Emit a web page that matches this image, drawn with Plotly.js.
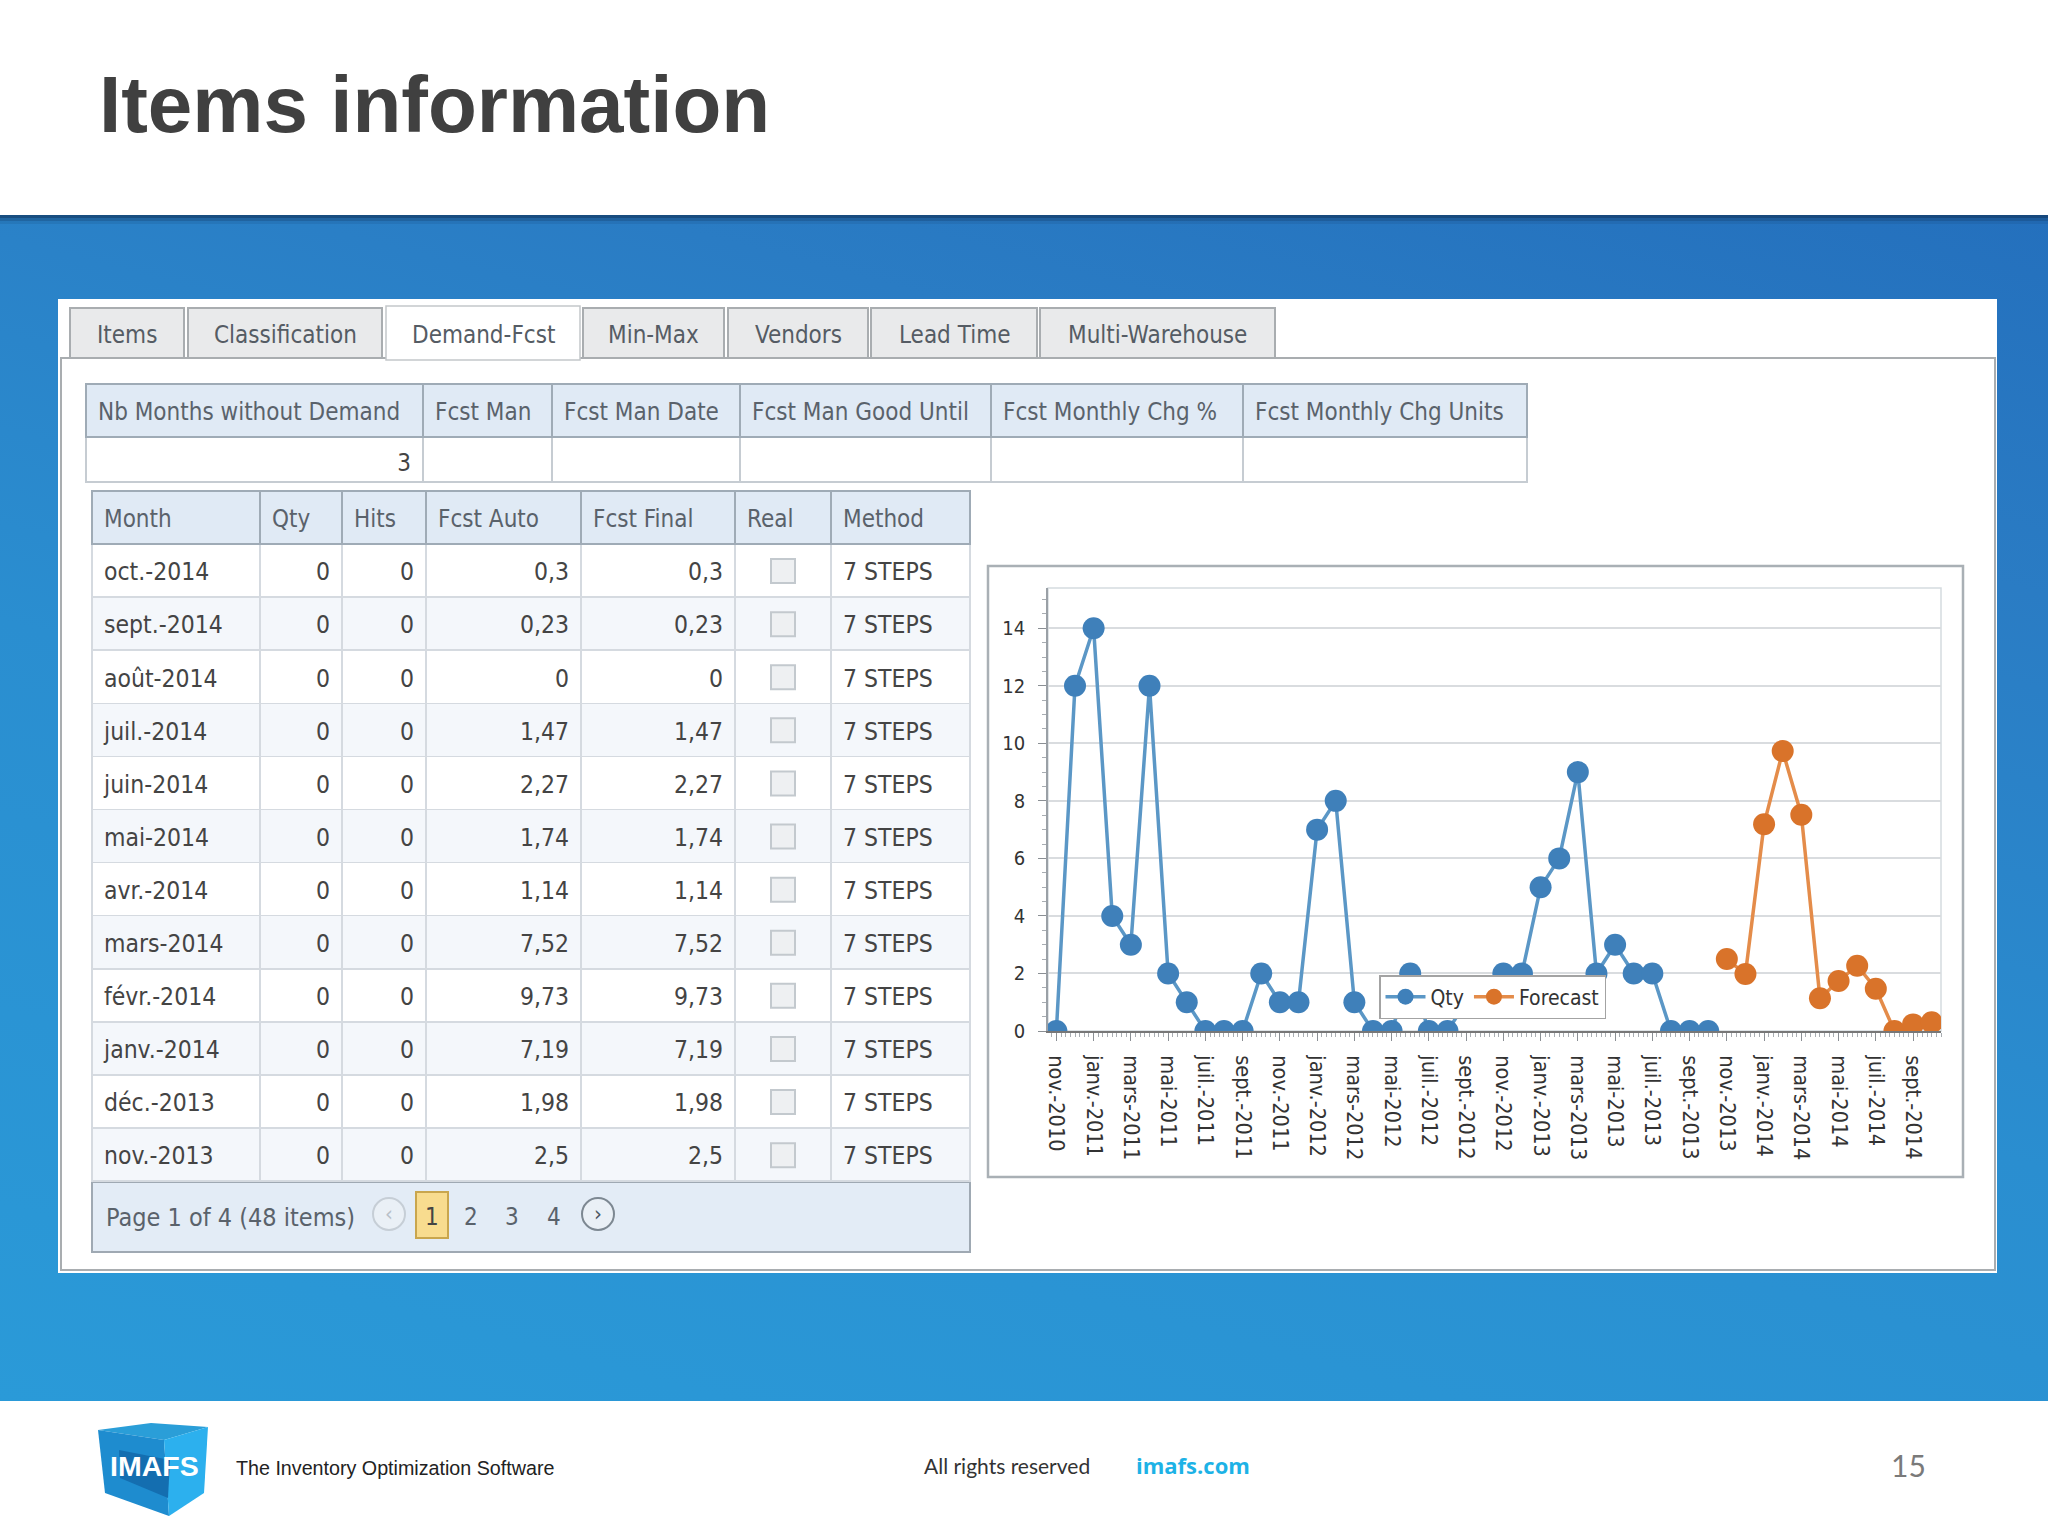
<!DOCTYPE html>
<html><head><meta charset="utf-8">
<script src="https://cdn.plot.ly/plotly-3.0.1.min.js"></script>
<style>
html,body{margin:0;padding:0;width:2048px;height:1536px;overflow:hidden;background:#fff}
#bg{position:absolute;left:0;top:215px;width:2048px;height:1186px;background:linear-gradient(195deg,#2470bd 0%,#2a7cc4 22%,#2a8ed0 55%,#2a9ad8 100%)}
#chart{position:absolute;left:0;top:0;width:2048px;height:1536px}
#chart .cell-text{transform:translate(0,10px)}
</style></head><body><div id="bg"></div><div id="chart"></div>
<script>
// ---- chart data ----
const chartMonths=["nov.-2010","déc.-2010","janv.-2011","févr.-2011","mars-2011","avr.-2011","mai-2011","juin-2011","juil.-2011","août-2011","sept.-2011","oct.-2011","nov.-2011","déc.-2011","janv.-2012","févr.-2012","mars-2012","avr.-2012","mai-2012","juin-2012","juil.-2012","août-2012","sept.-2012","oct.-2012","nov.-2012","déc.-2012","janv.-2013","févr.-2013","mars-2013","avr.-2013","mai-2013","juin-2013","juil.-2013","août-2013","sept.-2013","oct.-2013","nov.-2013","déc.-2013","janv.-2014","févr.-2014","mars-2014","avr.-2014","mai-2014","juin-2014","juil.-2014","août-2014","sept.-2014","oct.-2014"];
const qtyValues=[0,12,14,4,3,12,2,1,0,0,0,2,1,1,7,8,1,0,0,2,0,0,1,1,2,2,5,6,9,2,3,2,2,0,0,0,null,null,null,null,null,null,null,null,null,null,null,null];
const forecastValues=[null,null,null,null,null,null,null,null,null,null,null,null,null,null,null,null,null,null,null,null,null,null,null,null,null,null,null,null,null,null,null,null,null,null,null,null,2.5,1.98,7.19,9.73,7.52,1.14,1.74,2.27,1.47,0,0.23,0.3];
const monthIndex=chartMonths.map((m,i)=>i);
const axisTicks=monthIndex.filter(i=>i%2===0);
const axisLabels=axisTicks.map(i=>chartMonths[i]);
// ---- grid data ----
const gridHeaders=["Month","Qty","Hits","Fcst Auto","Fcst Final","Real","Method"];
const gridMonths=["oct.-2014","sept.-2014","août-2014","juil.-2014","juin-2014","mai-2014","avr.-2014","mars-2014","févr.-2014","janv.-2014","déc.-2013","nov.-2013"];
const gridQty=[0,0,0,0,0,0,0,0,0,0,0,0];
const gridHits=[0,0,0,0,0,0,0,0,0,0,0,0];
const gridAuto=["0,3","0,23","0","1,47","2,27","1,74","1,14","7,52","9,73","7,19","1,98","2,5"];
const gridFinal=["0,3","0,23","0","1,47","2,27","1,74","1,14","7,52","9,73","7,19","1,98","2,5"];
const gridReal=["","","","","","","","","","","",""];
const gridMethod=gridMonths.map(()=>"7 STEPS");
const topHeaders=["Nb Months without Demand","Fcst Man","Fcst Man Date","Fcst Man Good Until","Fcst Monthly Chg %","Fcst Monthly Chg Units"];
const topValues=["3","","","","",""];
const tabNames=["Items","Classification","Demand-Fcst","Min-Max","Vendors","Lead Time","Multi-Warehouse"];
const pagerPages=["2","3","4"];

// ---- layout helpers ----
const W=2048,H=1536,UI='"DejaVu Sans Condensed","DejaVu Sans",sans-serif';
const X=p=>p/W, Y=p=>1-p/H;
const shapes=[],ann=[];
function rect(x0,y0,x1,y1,fill,line,lw,layer){shapes.push({type:'rect',xref:'paper',yref:'paper',x0:X(x0),x1:X(x1),y0:Y(y0),y1:Y(y1),fillcolor:fill||'rgba(0,0,0,0)',line:{color:line||'rgba(0,0,0,0)',width:lw||0},layer:layer||'below'});}
function poly(pts,fill){shapes.push({type:'path',xref:'paper',yref:'paper',path:'M'+pts.map(p=>X(p[0])+','+Y(p[1])).join('L')+'Z',fillcolor:fill,line:{width:0},layer:'above'});}
function circ(cx,cy,r,fill,line,lw){shapes.push({type:'circle',xref:'paper',yref:'paper',x0:X(cx-r),x1:X(cx+r),y0:Y(cy+r),y1:Y(cy-r),fillcolor:fill,line:{color:line,width:lw},layer:'above'});}
function text(t,x,y,size,color,anchor,family,weight){ann.push({text:t,xref:'paper',yref:'paper',x:X(x),y:Y(y),xanchor:anchor||'left',yanchor:'middle',showarrow:false,font:{size,color,family:family||UI,weight:weight||400},borderpad:0});}

// slide chrome
rect(0,215,W,218,'rgba(15,50,90,0.65)');rect(0,218,W,221,'rgba(15,50,90,0.35)');rect(0,221,W,224,'rgba(15,50,90,0.12)');
rect(58,299,1997,1273,'#ffffff');
rect(61,358,1995,1270,'#ffffff','#a9adb0',2);
const tabEdges=[[70,184],[188,382],[386,580],[583,724],[728,868],[871,1037],[1040,1275]];
tabNames.forEach((n,i)=>{const e=tabEdges[i],act=i===2;
  rect(e[0],act?306:308,e[1],act?360:358,act?'#ffffff':'#e9eaeb',act?'#c4c7ca':'#a9adb0',act?1.5:2);
  text(n,(e[0]+e[1])/2,335,24,'#555c64','center');});
// title + footer
text('Items information',98,104,80,'#404040','left','"Liberation Sans",Arial,sans-serif',700);
rect(0,1401,W,H,'#ffffff');
poly([[98,1430],[151,1423],[208,1427],[164,1440]],'#2a9ed8');
poly([[98,1430],[164,1440],[169,1516],[105,1493]],'#1e8ccf');
poly([[164,1440],[208,1427],[204,1493],[169,1516]],'#2cb0ee');
poly([[119,1450],[170,1460],[168,1498],[120,1478]],'#146eb0');
text('IMAFS',154,1466,28.5,'#ffffff','center','"Liberation Sans",Arial,sans-serif',700);
text('The Inventory Optimization Software',235,1468,19.7,'#222222','left','"Liberation Sans",Arial,sans-serif');
text('All rights reserved',923,1465,21,'#333333','left','Lato,sans-serif');
text('imafs.com',1135,1465,22,'#1db2e6','left','"Open Sans",sans-serif',700);
text('15',1890,1465,30,'#7a7a7a','left','Lato,sans-serif');
// chart box
rect(988,566,1963,1177,'#ffffff','#a9b0b5',2.5);
rect(1048,588,1941,1031,'rgba(0,0,0,0)','#d5dbe0',1.5);
// pager band
rect(92,1182,970,1252,'#e3ecf6','#9fa9b3',2);
text('Page 1 of 4 (48 items)',104.5,1217,25,'#5a626b','left');
circ(389,1214,16,'#eaf0f6','#c6ced6',2);
text('‹',389,1213,22,'#b8c0c8','center');
rect(416,1192,448,1238,'#f8dc8f','#c9a64e',2,'above');
text('1',432,1217,24,'#444444','center');
pagerPages.forEach((p,i)=>text(p,[471,511.5,554][i],1217,24,'#5a626b','center'));
circ(598,1214,16,'#eaf0f6','#7d8892',2);
text('›',598,1213,22,'#4d5862','center');
// grid metrics
const colX=[92,260,342,426,581,735,831,970],rowTop=544.5,rowH=53.1;
gridMonths.forEach((m,i)=>{const cy=rowTop+rowH*(i+.5),cx=(colX[5]+colX[6])/2;
  rect(cx-12,cy-12,cx+12,cy+12,'#eef0f2','#c3c9ce',2,'above');});

const colW=colX.slice(1).map((v,i)=>v-colX[i]);
const topX=[86,423,552,740,991,1243,1527],topW=topX.slice(1).map((v,i)=>v-topX[i]);
const zebra=gridMonths.map((m,i)=>i%2?'#f4f7fb':'#ffffff');
const traces=[
 {type:'table',domain:{x:[X(86),X(1527)],y:[Y(483),Y(384)]},columnwidth:topW,
  header:{values:topHeaders,height:53,align:'left',fill:{color:'#e0eaf5'},line:{color:'#9fabb6',width:2},font:{family:UI,size:24,color:'#5a626b'}},
  cells:{values:topValues.map(v=>[v]),height:45,align:'right',fill:{color:'#ffffff'},line:{color:'#c6ccd2',width:1.5},font:{family:UI,size:24,color:'#444'}}},
 {type:'table',domain:{x:[X(colX[0]),X(colX[7])],y:[Y(1183),Y(491)]},columnwidth:colW,
  header:{values:gridHeaders,height:53,align:'left',fill:{color:'#e0eaf5'},line:{color:'#9fabb6',width:2},font:{family:UI,size:24,color:'#5a626b'}},
  cells:{values:[gridMonths,gridQty,gridHits,gridAuto,gridFinal,gridReal,gridMethod],height:rowH,
   align:['left','right','right','right','right','center','left'],
   fill:{color:gridHeaders.map(()=>zebra)},line:{color:'#d5dae0',width:1.5},font:{family:UI,size:24.5,color:'#444'}}},
 {type:'scatter',mode:'lines+markers',name:'Qty',x:monthIndex,y:qtyValues,line:{color:'#5b97c6',width:3.5},marker:{color:'#3f80ba',size:22}},
 {type:'scatter',mode:'lines+markers',name:'Forecast',x:monthIndex,y:forecastValues,line:{color:'#e48c4a',width:3.5},marker:{color:'#d9732a',size:22}}
];
const layout={width:W,height:H,margin:{l:0,r:0,t:0,b:0},paper_bgcolor:'rgba(0,0,0,0)',plot_bgcolor:'rgba(0,0,0,0)',showlegend:true,
 font:{family:UI,color:'#333'},shapes,annotations:ann,
 legend:{x:X(1379),y:Y(975),xanchor:'left',yanchor:'top',orientation:'h',bgcolor:'#ffffff',bordercolor:'#a3a3a3',borderwidth:1.5,font:{size:21,color:'#333',family:UI},itemwidth:40},
 xaxis:{domain:[X(1048),X(1941)],type:'linear',range:[-0.45,47.5],tickmode:'array',tickvals:axisTicks,ticktext:axisLabels,tickangle:90,ticklabelstandoff:10,
  tickfont:{size:21.5,color:'#333',family:UI},ticks:'outside',ticklen:8,tickcolor:'#8a8f94',showgrid:false,showline:true,linecolor:'#777',linewidth:2,zeroline:false,
  minor:{ticks:'outside',ticklen:4,tickcolor:'#a8adb2',tickmode:'linear',tick0:0,dtick:0.25,showgrid:false},automargin:false},
 yaxis:{domain:[Y(1031),Y(588)],range:[0,15.4],tickmode:'linear',tick0:0,dtick:2,ticklabelstandoff:9,tickfont:{size:20,color:'#333',family:UI},ticks:'outside',ticklen:8,tickcolor:'#8a8f94',
  gridcolor:'#d9dcdf',gridwidth:2,showline:true,linecolor:'#9aa0a6',linewidth:1.5,zeroline:false,minor:{ticks:'outside',ticklen:4,tickcolor:'#a8adb2',tickmode:'linear',tick0:0,dtick:0.5,showgrid:false},automargin:false}
};
Plotly.newPlot('chart',traces,layout,{displayModeBar:false,responsive:false}).then(gd=>{
  // Table cell padding is fixed in the library: nudge the text to the grid's own inset.
  const rightAligned=new Set([...gridQty,...gridHits,...gridAuto,...gridFinal,'3'].map(String));
  gd.querySelectorAll('.cell-text').forEach(el=>{
    const t=el.textContent.trim();
    if(!t) return;
    const dx=rightAligned.has(t)?-4:4;
    const dy=t==='3'?8:10;
    el.style.transform=`translate(${dx}px,${dy}px)`;
  });
});
</script></body></html>
